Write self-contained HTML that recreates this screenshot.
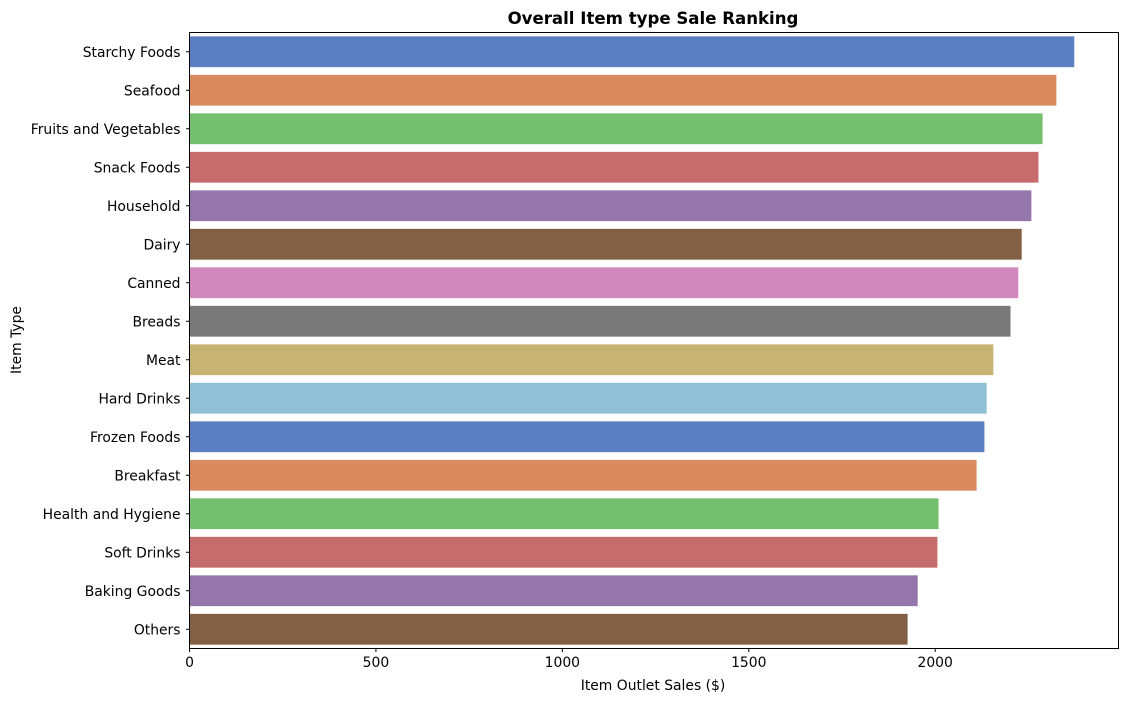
<!DOCTYPE html>
<html><head><meta charset="utf-8"><style>
body{margin:0;background:#fff;font-family:"Liberation Sans","DejaVu Sans",sans-serif;}
svg text{font-family:"DejaVu Sans","Liberation Sans",sans-serif;}
</style></head><body>
<svg id="chart" width="1129" height="701" xmlns="http://www.w3.org/2000/svg">
<text x="653" y="24" text-anchor="middle" font-size="16.6" font-weight="bold">Overall Item type Sale Ranking</text>
<g id="bars"></g>
<rect x="189.5" y="32.5" width="929" height="616" fill="none" stroke="#000" stroke-width="1"/>
<text x="653" y="690" text-anchor="middle" font-size="13.9">Item Outlet Sales ($)</text>
<text transform="translate(21,340) rotate(-90)" text-anchor="middle" font-size="13.9">Item Type</text>
</svg>
<script>
const categories=["Starchy Foods","Seafood","Fruits and Vegetables","Snack Foods","Household","Dairy","Canned","Breads","Meat","Hard Drinks","Frozen Foods","Breakfast","Health and Hygiene","Soft Drinks","Baking Goods","Others"];
const sales=[2373,2325,2288,2277,2258,2232,2223,2202,2156,2138,2132,2111,2009,2006,1953,1926];
const xTicks=[0,500,1000,1500,2000];
const palette=["#5b7fc0","#d98b5f","#74c06f","#c76c6c","#9476ab","#835f45","#d188bc","#797979","#c7b373","#8fc0d6"];
const ns="http://www.w3.org/2000/svg";
const svg=document.getElementById('chart');
const g=document.getElementById('bars');
const L=189.5,R=1118.5,T=32.5,B=648.5;
const xMax=Math.max(...sales)*1.05;
const x=v=>L+v/xMax*(R-L);
const step=(B-T)/categories.length;
const yc=i=>T+step*(i+0.5);
categories.forEach((c,i)=>{
  const r=document.createElementNS(ns,'rect');
  
  
  r.setAttribute('x',x(0));r.setAttribute('y',yc(i)-step*0.4);
  r.setAttribute('width',x(sales[i])-x(0));r.setAttribute('height',step*0.8);
  r.setAttribute('fill',palette[i%palette.length]);
  g.appendChild(r);
  const tk=document.createElementNS(ns,'line');
  
  
  tk.setAttribute('x1',L-3.5);tk.setAttribute('x2',L);tk.setAttribute('y1',yc(i));tk.setAttribute('y2',yc(i));tk.setAttribute('stroke','#000');
  svg.appendChild(tk);
  const t=document.createElementNS(ns,'text');
  
  
  t.setAttribute('x',L-9);t.setAttribute('y',yc(i)+5);t.setAttribute('text-anchor','end');t.setAttribute('font-size','13.9');
  t.textContent=c;svg.appendChild(t);
});
xTicks.forEach(v=>{
  const tk=document.createElementNS(ns,'line');
  
  
  tk.setAttribute('x1',x(v));tk.setAttribute('x2',x(v));tk.setAttribute('y1',B);tk.setAttribute('y2',B+3.5);tk.setAttribute('stroke','#000');
  svg.appendChild(tk);
  const t=document.createElementNS(ns,'text');
  
  
  t.setAttribute('x',x(v));t.setAttribute('y',B+18.5);t.setAttribute('text-anchor','middle');t.setAttribute('font-size','13.9');
  t.textContent=v;svg.appendChild(t);
});
</script>
</body></html>
